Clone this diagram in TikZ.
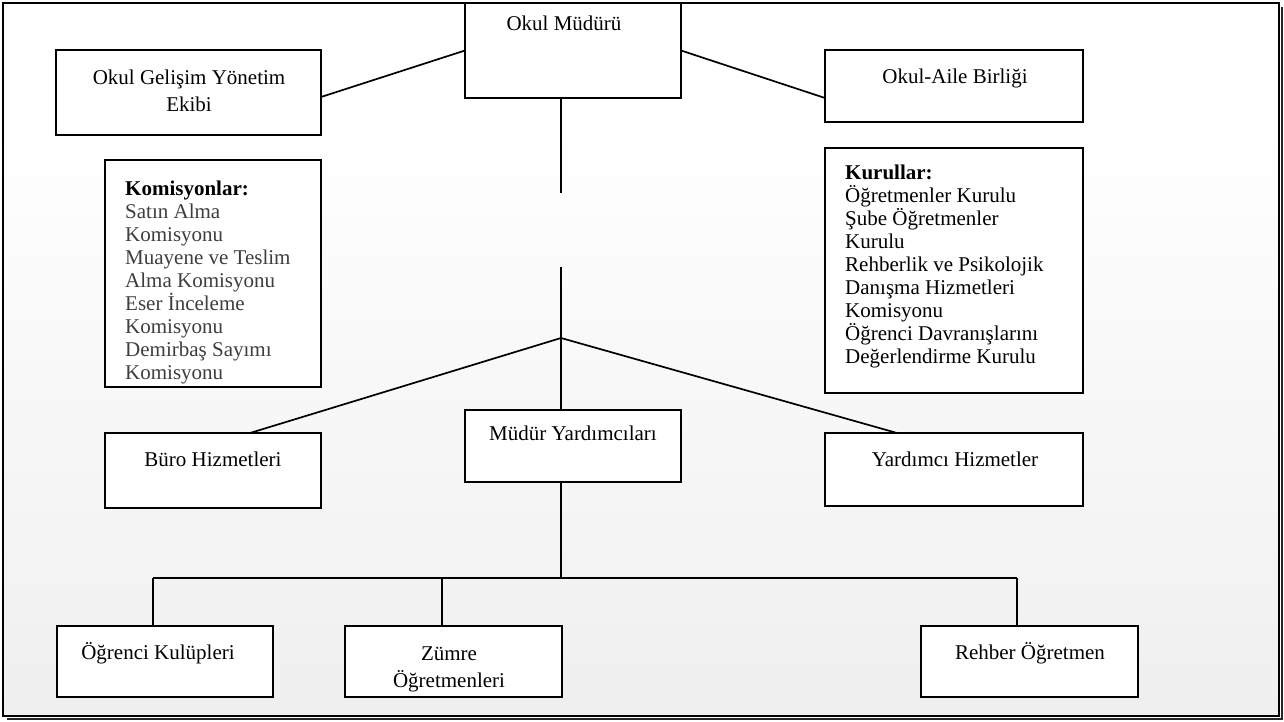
\documentclass[tikz,border=0pt]{standalone}
\usepackage{fontspec}
\setmainfont{Liberation Serif}
\definecolor{bgbot}{RGB}{239,239,239}
\definecolor{itemgray}{RGB}{62,62,62}
\tikzset{
  orgbox/.style={draw=black, fill=white, line width=1.7pt, inner sep=0pt, outer sep=0pt, anchor=north west},
  lbl/.style={font=\fontsize{21}{24}\selectfont, inner sep=0pt, anchor=base},
  lst/.style={font=\fontsize{21}{23}\selectfont, inner sep=0pt, anchor=north west, align=left},
  conn/.style={line width=1.7pt, draw=black},
}
\begin{document}
\begin{tikzpicture}[x=1pt,y=-1pt]
\useasboundingbox (0,0) rectangle (1284,722);
\fill[white] (0,0) rectangle (1284,722);
\shade[top color=white, bottom color=bgbot] (3,120) rectangle (1279,716);
% frame with shadow
\draw[line width=2pt, black!85] (1281.5,7) -- (1281.5,718.5) -- (7,718.5);
\draw[line width=1.7pt] (3,3) rectangle (1279,716);

% boxes
\node[orgbox, minimum width=216pt, minimum height=95pt] (mud) at (465,3) {};
\node[orgbox, minimum width=265pt, minimum height=85pt] (gel) at (56,50) {};
\node[orgbox, minimum width=258pt, minimum height=72pt] (aile) at (825,50) {};
\node[orgbox, minimum width=216pt, minimum height=227pt] (kom) at (105,160) {};
\node[orgbox, minimum width=258pt, minimum height=245pt] (kur) at (825,148) {};
\node[orgbox, minimum width=216pt, minimum height=75pt] (buro) at (105,433) {};
\node[orgbox, minimum width=216pt, minimum height=72pt] (myd) at (465,410) {};
\node[orgbox, minimum width=258pt, minimum height=73pt] (yard) at (825,433) {};
\node[orgbox, minimum width=216pt, minimum height=71pt] (ogr) at (57,626) {};
\node[orgbox, minimum width=217pt, minimum height=71pt] (zum) at (345,626) {};
\node[orgbox, minimum width=217pt, minimum height=71pt] (reh) at (921,626) {};

% texts
\node[lbl] (tmud) at (564,31) {Okul Müdürü};
\node[lbl] (tgel1) at (189,85) {Okul Gelişim Yönetim};
\node[lbl] (tgel2) at (189,112) {Ekibi};
\node[lbl] (taile) at (955,84) {Okul-Aile Birliği};
\node[lst] (tkom) at (125,180.5) {\textbf{Komisyonlar:}\\
  \textcolor{itemgray}{Satın Alma}\\
  \textcolor{itemgray}{Komisyonu}\\
  \textcolor{itemgray}{Muayene ve Teslim}\\
  \textcolor{itemgray}{Alma Komisyonu}\\
  \textcolor{itemgray}{Eser İnceleme}\\
  \textcolor{itemgray}{Komisyonu}\\
  \textcolor{itemgray}{Demirbaş Sayımı}\\
  \textcolor{itemgray}{Komisyonu}};
\node[lst] (tkur) at (845,164.7) {\textbf{Kurullar:}\\
  Öğretmenler Kurulu\\
  Şube Öğretmenler\\
  Kurulu\\
  Rehberlik ve Psikolojik\\
  Danışma Hizmetleri\\
  Komisyonu\\
  Öğrenci Davranışlarını\\
  Değerlendirme Kurulu};
\node[lbl] (tburo) at (213,466) {Büro Hizmetleri};
\node[lbl] (tmyd) at (573,440) {Müdür Yardımcıları};
\node[lbl] (tyard) at (955,466) {Yardımcı Hizmetler};
\node[lbl] (togr) at (158,659) {Öğrenci Kulüpleri};
\node[lbl] (tzum1) at (449,660) {Zümre};
\node[lbl] (tzum2) at (449,687) {Öğretmenleri};
\node[lbl] (treh) at (1030,659) {Rehber Öğretmen};

% connector points
\coordinate (jn) at (561,338);
\coordinate (g1) at (561,193);
\coordinate (g2) at (561,267);
\coordinate (hb) at (561,578);
\coordinate (hl) at (153,578);
\coordinate (hm) at (442,578);
\coordinate (hr) at (1017,578);

% connectors
\draw[conn] ([yshift=-4.5pt]gel.east) -- (mud.west);
\draw[conn] (mud.east) -- ([yshift=-12pt]aile.west);
\draw[conn] (mud.south -| jn) -- (g1);
\draw[conn] (g2) -- (jn) -- (myd.north -| jn);
\draw[conn] (jn) -- ([xshift=37pt]buro.north);
\draw[conn] (jn) -- ([xshift=-57pt]yard.north);
\draw[conn] (myd.south -| jn) -- (hb);
\draw[conn] (hl) -- (hr);
\draw[conn] (hl) -- (hl |- ogr.north);
\draw[conn] (hm) -- (hm |- zum.north);
\draw[conn] (hr) -- (hr |- reh.north);
\end{tikzpicture}
\end{document}
